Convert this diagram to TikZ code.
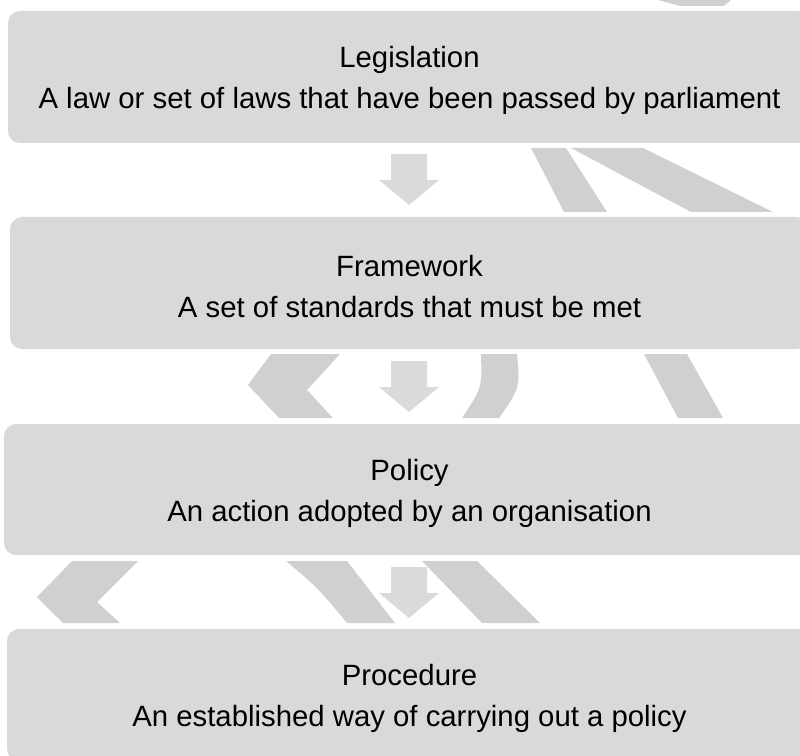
\documentclass[tikz,border=0pt]{standalone}
\usepackage{fontspec}
\setmainfont{Liberation Sans}
\definecolor{boxgray}{RGB}{217,217,217}
\definecolor{bggray}{RGB}{208,208,208}
\definecolor{arrgray}{RGB}{218,218,218}
\newcommand{\toprule}{\rule{0pt}{21.75pt}}
\tikzset{
  stage/.style={rectangle, rounded corners=9pt, fill=boxgray, draw=none,
    minimum height=99pt, inner sep=0pt, align=center,
    font=\fontsize{22pt}{30.75pt}\selectfont, text=black},
  bgshape/.style={fill=bggray, draw=none},
  downarr/.pic={\fill[arrgray] (-18,0) -- (18,0) -- (18,26) -- (30,26) -- (0,51) -- (-30,26) -- (-18,26) -- cycle;}
}
\begin{document}
\begin{tikzpicture}[x=0.75pt,y=-0.75pt]
\useasboundingbox (0,0) rectangle (800,756);
\clip (0,0) rectangle (800,756);
% background decorative pieces
\fill[bgshape] (658,0) -- (731,0) -- (724,6) -- (680,6) -- cycle;
\fill[bgshape] (531,148) .. controls (545,175) .. (564,212) -- (607,212) -- (566,148) -- cycle;
\fill[bgshape] (571,148) -- (643,148) -- (773,212) -- (691,212) -- cycle;
\fill[bgshape] (271,354) -- (340,354) -- (307,390) -- (333,418) -- (279,418) -- (248,385) -- cycle;
\fill[bgshape] (481,354) .. controls (482,388) .. (462,418) -- (499,418) .. controls (520,388) .. (517,354) -- cycle;
\fill[bgshape] (644,354) -- (687,354) -- (723,418) -- (678,418) -- cycle;
\fill[bgshape] (72,561) -- (138,561) -- (97,602) -- (120,623) -- (63,623) -- (37,597) -- cycle;
\fill[bgshape] (286,561) .. controls (318,588) .. (347,623) -- (395,623) -- (347,561) -- cycle;
\fill[bgshape] (422,561) -- (477,561) -- (540,623) -- (482,623) -- cycle;
% stages
\node[stage, minimum width=602.25pt] (leg) at (409.5,77) {\toprule Legislation\\A law or set of laws that have been passed by parliament};
\node[stage, minimum width=599.25pt] (fra) at (409.5,283) {\toprule Framework\\A set of standards that must be met};
\node[stage, minimum width=608.25pt, minimum height=98.25pt] (pol) at (409.5,489.5) {\toprule Policy\\An action adopted by an organisation};
\node[stage, minimum width=603.75pt] (pro) at (409.5,695) {\toprule Procedure\\An established way of carrying out a policy};
% arrows
\pic at (409,154) {downarr};
\pic at (409,361) {downarr};
\pic at (409,567) {downarr};
\end{tikzpicture}
\end{document}
